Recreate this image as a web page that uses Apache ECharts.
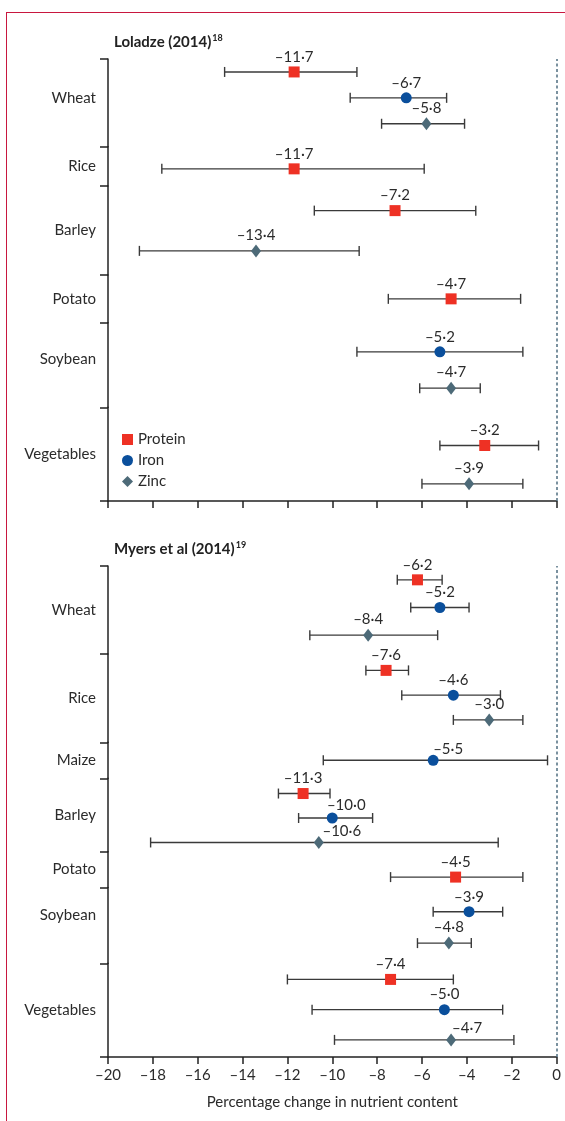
<!DOCTYPE html>
<html><head><meta charset="utf-8">
<script src="https://cdn.jsdelivr.net/npm/echarts@6/dist/echarts.min.js"></script>
<style>
html,body{margin:0;padding:0;background:#fff;}
#frame{position:absolute;left:6px;top:12px;width:559px;height:1109px;border-top:1.5px solid #c8173f;border-left:1.5px solid #c8173f;box-sizing:border-box;}
#chart{position:absolute;left:0;top:0;width:565px;height:1121px;}
</style></head><body>
<div id="frame"></div><div id="chart"></div>
<script>
// ---------- DATA ----------
const nutrients = ['Protein', 'Iron', 'Zinc'];
const axisTitle = 'Percentage change in nutrient content';

// Panel 1: Loladze (2014)
const loladzeCrops = ['Wheat', 'Rice', 'Barley', 'Potato', 'Soybean', 'Vegetables'];
const loladzeProtein     = [-11.7, -11.7, -7.2, -4.7, null, -3.2];
const loladzeProteinLow  = [-14.8, -17.6, -10.8, -7.5, null, -5.2];
const loladzeProteinHigh = [-8.9, -5.9, -3.6, -1.6, null, -0.8];
const loladzeIron        = [-6.7, null, null, null, -5.2, null];
const loladzeIronLow     = [-9.2, null, null, null, -8.9, null];
const loladzeIronHigh    = [-4.9, null, null, null, -1.5, null];
const loladzeZinc        = [-5.8, null, -13.4, null, -4.7, -3.9];
const loladzeZincLow     = [-7.8, null, -18.6, null, -6.1, -6.0];
const loladzeZincHigh    = [-4.1, null, -8.8, null, -3.4, -1.5];

// Panel 2: Myers et al (2014)
const myersCrops = ['Wheat', 'Rice', 'Maize', 'Barley', 'Potato', 'Soybean', 'Vegetables'];
const myersProtein     = [-6.2, -7.6, null, -11.3, -4.5, null, -7.4];
const myersProteinLow  = [-7.1, -8.5, null, -12.4, -7.4, null, -12.0];
const myersProteinHigh = [-5.1, -6.6, null, -10.1, -1.5, null, -4.6];
const myersIron        = [-5.2, -4.6, -5.5, -10.0, null, -3.9, -5.0];
const myersIronLow     = [-6.5, -6.9, -10.4, -11.5, null, -5.5, -10.9];
const myersIronHigh    = [-3.9, -2.5, -0.4, -8.2, null, -2.4, -2.4];
const myersZinc        = [-8.4, -3.0, null, -10.6, null, -4.8, -4.7];
const myersZincLow     = [-11.0, -4.6, null, -18.1, null, -6.2, -9.9];
const myersZincHigh    = [-5.3, -1.5, null, -2.6, null, -3.8, -1.9];

// ---------- LAYOUT / STYLE ----------
const FONT = 'Lato';
const FS = 15;
const TXT = '#2b2b2b';
const AX = '#222';
const GRID_LEFT = 108, GRID_RIGHT = 8.5;
// band heights of each crop group, [top, bottom] insets of the marker rows inside each band,
// and an upward nudge (px) of the crop label
const panelLayout = [
  { top: 59,  bands: [87.7, 39.3, 89, 47.7, 84.6, 93.7],
    insets: [[0, 10], [5, 0], [4.5, 4], [0, 0], [11, 1], [19, -2]],
    labelUp: [5, 0, 0, 0, 6, 0] },
  { top: 566, bands: [88, 88.3, 36, 73.4, 35.8, 75.8, 93.7],
    insets: [[0, 5], [4, 10], [0, 0], [3, -3], [15, 0], [8.5, 4.5], [1, 2]],
    labelUp: [0, 0, 0, 0, 0, 10, 0] }
];
const SYM  = { Protein: 'rect', Iron: 'circle', Zinc: 'diamond' };
const SIZE = { Protein: 11, Iron: 11, Zinc: [10, 13] };
const COL  = { Protein: '#ee3124', Iron: '#0a4f9c', Zinc: '#4d6a78' };
const labelShift = {
  '1|Maize|Iron': [15, 4], '1|Barley|Iron': [14, 2], '1|Barley|Zinc': [23, 5], '1|Vegetables|Zinc': [16, 4]
};

const panels = [
  { title: 'Loladze (2014)', sup: '18', crops: loladzeCrops, tickLabels: false,
    values: { Protein: [loladzeProtein, loladzeProteinLow, loladzeProteinHigh],
              Iron: [loladzeIron, loladzeIronLow, loladzeIronHigh],
              Zinc: [loladzeZinc, loladzeZincLow, loladzeZincHigh] } },
  { title: 'Myers et al (2014)', sup: '19', crops: myersCrops, tickLabels: true,
    values: { Protein: [myersProtein, myersProteinLow, myersProteinHigh],
              Iron: [myersIron, myersIronLow, myersIronHigh],
              Zinc: [myersZinc, myersZincLow, myersZincHigh] } }
];

function fmt(v) {
  return (v < 0 ? '\u2013' : '') + Math.abs(v).toFixed(1).replace('.', '\u00b7');
}
function fmtTick(v) { return v < 0 ? '\u2013' + Math.abs(v) : String(v); }

function renderBar(params, api) {
  const row = api.value(2);
  const a = api.coord([api.value(0), row]);
  const b = api.coord([api.value(1), row]);
  const h = 5;
  const st = { stroke: '#3a3a3a', lineWidth: 1.4 };
  return { type: 'group', children: [
    { type: 'line', shape: { x1: a[0], y1: a[1], x2: b[0], y2: b[1] }, style: st },
    { type: 'line', shape: { x1: a[0], y1: a[1] - h, x2: a[0], y2: a[1] + h }, style: st },
    { type: 'line', shape: { x1: b[0], y1: b[1] - h, x2: b[0], y2: b[1] + h }, style: st }
  ]};
}

const grid = [], xAxis = [], yAxis = [], series = [], title = [];
panels.forEach((p, pi) => {
  const lay = panelLayout[pi];
  const total = lay.bands.reduce((s, v) => s + v, 0);
  // overlay grid for the x axis and the zero reference line
  const gi = grid.length;
  grid.push({ left: GRID_LEFT, right: GRID_RIGHT, top: lay.top, height: total });
  const xo = xAxis.length;
  xAxis.push({ gridIndex: gi, type: 'value', min: -20, max: 0, interval: 2,
    axisLine: { show: true, onZero: false, lineStyle: { color: AX, width: 1.5 } },
    axisTick: { show: true, length: 7, lineStyle: { color: AX, width: 1.5 } },
    axisLabel: { show: p.tickLabels, margin: 11, fontSize: FS, color: TXT, fontFamily: FONT, formatter: fmtTick },
    splitLine: { show: false },
    name: p.tickLabels ? axisTitle : '', nameLocation: 'middle', nameGap: 38,
    nameTextStyle: { fontSize: FS, color: TXT, fontFamily: FONT } });
  const yo = yAxis.length;
  yAxis.push({ gridIndex: gi, type: 'value', min: 0, max: 1, show: false });
  series.push({ type: 'line', xAxisIndex: xo, yAxisIndex: yo, data: [], silent: true,
    markLine: { silent: true, symbol: ['none', 'none'], label: { show: false },
      lineStyle: { color: '#4f6e80', type: [3, 2.5], width: 1.5 }, data: [{ xAxis: 0 }] } });
  title.push({ left: 109, top: lay.top - 30,
    text: '{t|' + p.title + '}{s|' + p.sup + '}',
    textStyle: { rich: {
      t: { fontFamily: FONT, fontSize: 15, fontWeight: 'bold', color: '#222' },
      s: { fontFamily: FONT, fontSize: 9, fontWeight: 'bold', color: '#222', verticalAlign: 'top', padding: [0, 0, 7, 1] } } } });

  let top = lay.top;
  p.crops.forEach((crop, ci) => {
    const h = lay.bands[ci];
    const ins = lay.insets[ci];
    const up = lay.labelUp[ci];
    // band grid: crop label, axis line segment and boundary ticks
    const g = grid.length;
    grid.push({ left: GRID_LEFT, right: GRID_RIGHT, top: top, height: h });
    xAxis.push({ gridIndex: g, type: 'value', min: -20, max: 0, show: false });
    yAxis.push({ gridIndex: g, type: 'category', data: [crop],
      axisLine: { show: true, onZero: false, lineStyle: { color: AX, width: 1.5 } },
      axisTick: { show: true, length: 8, lineStyle: { color: AX, width: 1.5 } },
      axisLabel: { margin: 12, color: TXT,
        formatter: v => '{c|' + v + '}',
        rich: { c: { fontSize: FS, fontFamily: FONT, color: TXT, padding: [0, 0, 2 * up, 0] } } },
      splitLine: { show: false } });
    // row grid: one row per nutrient measured for this crop
    const rg = grid.length;
    grid.push({ left: GRID_LEFT, right: GRID_RIGHT, top: top + ins[0], height: h - ins[0] - ins[1] });
    top += h;
    const xi = xAxis.length;
    xAxis.push({ gridIndex: rg, type: 'value', min: -20, max: 0, show: false });
    const rows = nutrients.filter(n => p.values[n][0][ci] != null);
    const yr = yAxis.length;
    yAxis.push({ gridIndex: rg, type: 'category', data: rows, inverse: true, show: false,
      axisLine: { onZero: false } });
    series.push({ type: 'custom', xAxisIndex: xi, yAxisIndex: yr, silent: true, z: 2,
      renderItem: renderBar, encode: { x: [0, 1], y: 2 },
      data: rows.map(n => [p.values[n][1][ci], p.values[n][2][ci], n]) });
    rows.forEach(n => {
      const sh = labelShift[pi + '|' + crop + '|' + n] || [0, 0];
      series.push({ type: 'scatter', name: n, xAxisIndex: xi, yAxisIndex: yr, silent: true, z: 3,
        symbol: SYM[n], symbolSize: SIZE[n], itemStyle: { color: COL[n], opacity: 1 },
        data: [[p.values[n][0][ci], n]],
        label: { show: true, position: 'top', distance: 2, offset: sh,
          formatter: d => fmt(d.value[0]), fontSize: FS, color: TXT, fontFamily: FONT } });
    });
  });
});

const chart = echarts.init(document.getElementById('chart'), null, { renderer: 'canvas' });
chart.setOption({
  animation: false,
  backgroundColor: 'transparent',
  title: title,
  legend: { orient: 'vertical', left: 122, top: 432, itemWidth: 11, itemHeight: 11, itemGap: 6,
    selectedMode: false, padding: 0,
    textStyle: { fontSize: FS, color: TXT, fontFamily: FONT },
    data: [{ name: 'Protein', icon: 'rect' }, { name: 'Iron', icon: 'circle' }, { name: 'Zinc', icon: 'diamond' }] },
  grid: grid, xAxis: xAxis, yAxis: yAxis, series: series
});
</script></body></html>
